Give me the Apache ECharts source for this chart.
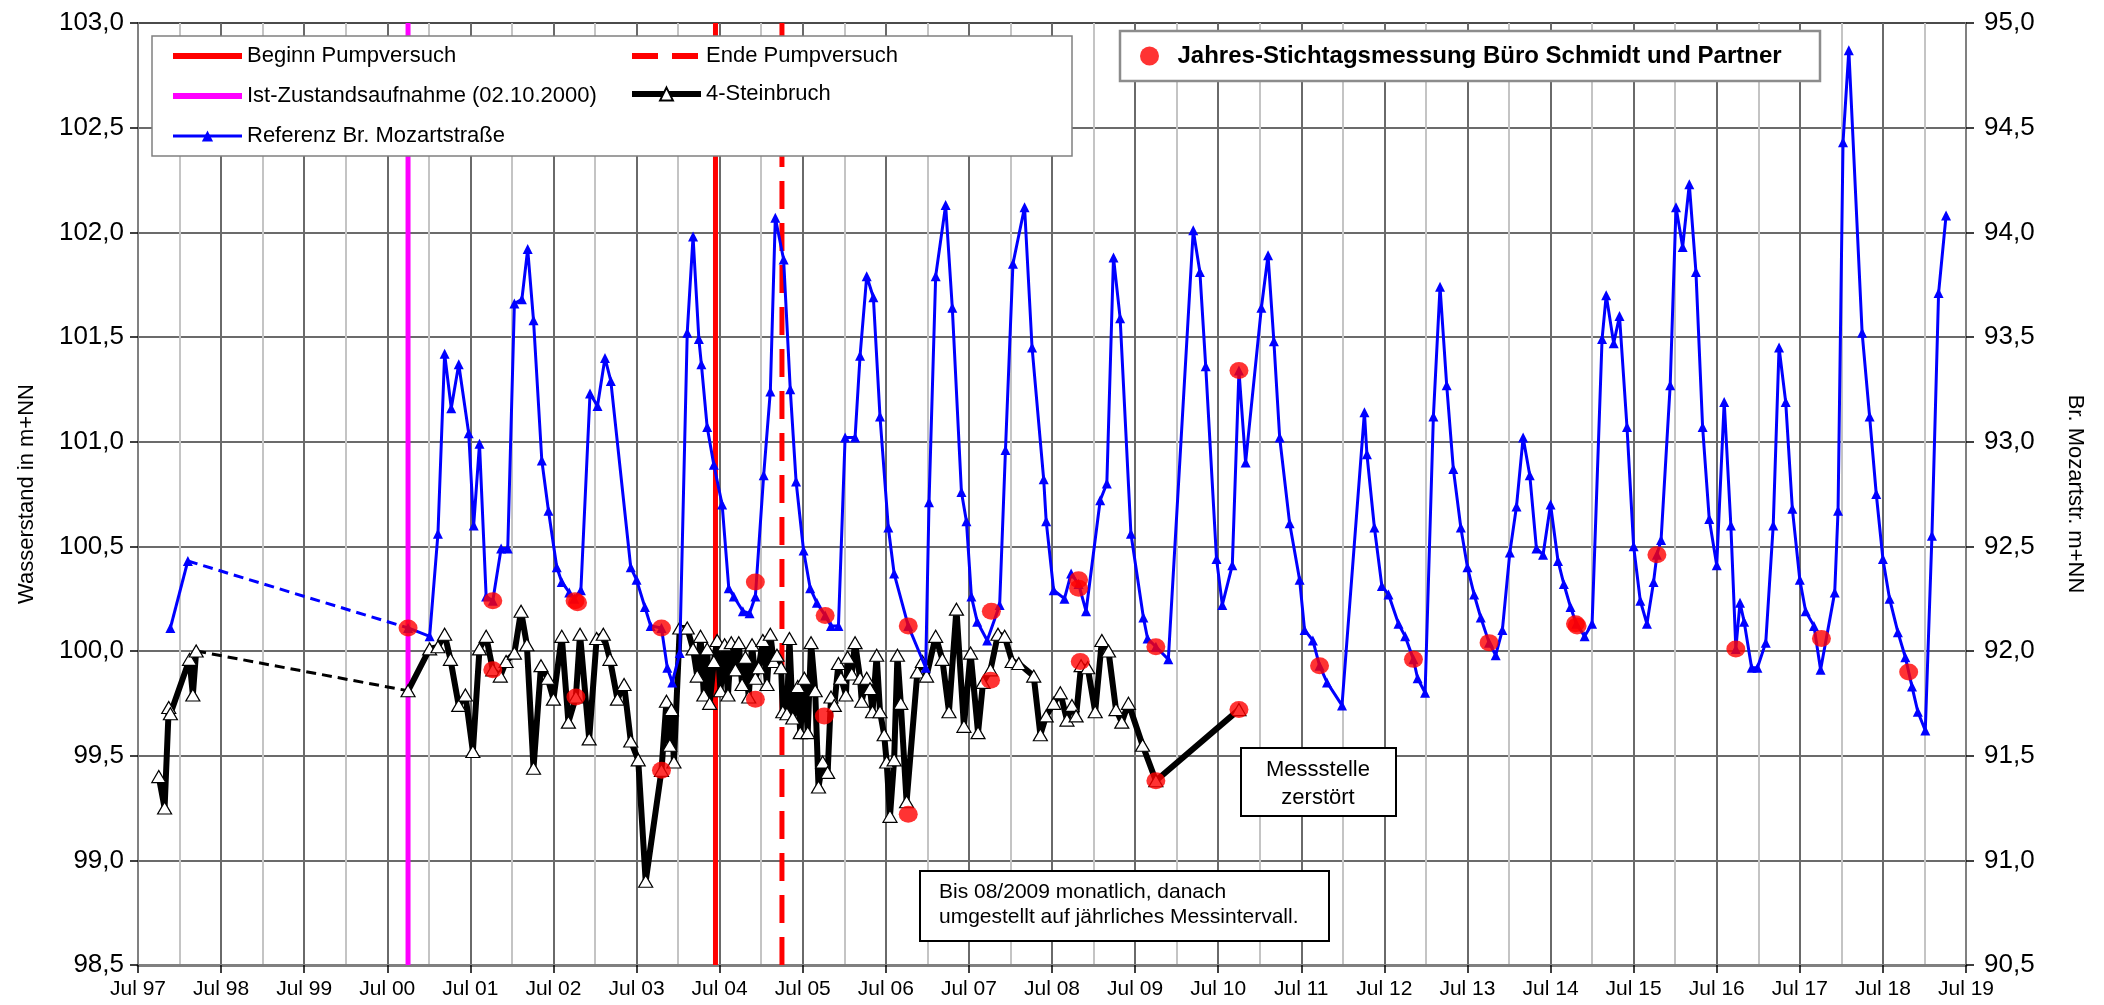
<!DOCTYPE html>
<html>
<head>
<meta charset="utf-8">
<script src="https://cdn.jsdelivr.net/npm/echarts@6/dist/echarts.min.js"></script>
<style>html,body{margin:0;padding:0;background:#fff}#chart{width:2104px;height:1005px}</style>
</head>
<body>
<div id="chart"></div>
<script>
// ---------- DATA (x = decimal year) ----------
const xTickLabels = ['Jul 97','Jul 98','Jul 99','Jul 00','Jul 01','Jul 02','Jul 03','Jul 04','Jul 05','Jul 06','Jul 07','Jul 08','Jul 09','Jul 10','Jul 11','Jul 12','Jul 13','Jul 14','Jul 15','Jul 16','Jul 17','Jul 18','Jul 19'];

// Event dates
const istDate = 2000.75;      // 02.10.2000
const beginnDate = 2004.45;
const endeDate = 2005.25;

// 4-Steinbruch (left axis, m+NN)
const steinbruchEarly = [[1997.75,99.40],[1997.82,99.25],[1997.87,99.73],[1997.89,99.70],[1998.12,99.96],[1998.16,99.79],[1998.20,100.00]];
const steinbruch = [
 [2000.75,99.81],[2001.01,100.01],[2001.11,100.02],[2001.19,100.08],[2001.26,99.96],[2001.36,99.74],[2001.44,99.79],[2001.53,99.52],[2001.61,100.01],[2001.69,100.07],[2001.77,99.91],[2001.86,99.88],[2001.93,99.95],
 [2002.03,99.99],[2002.11,100.19],[2002.18,100.03],[2002.26,99.44],[2002.35,99.93],[2002.43,99.87],[2002.50,99.77],[2002.60,100.07],[2002.68,99.66],[2002.77,99.78],[2002.82,100.08],[2002.93,99.58],
 [2003.02,100.06],[2003.10,100.08],[2003.18,99.96],[2003.27,99.77],[2003.35,99.84],[2003.43,99.57],[2003.52,99.48],[2003.61,98.90],[2003.80,99.43],[2003.86,99.76],[2003.90,99.55],[2003.92,99.72],[2003.95,99.47],
 [2004.02,100.11],[2004.11,100.11],[2004.18,100.01],[2004.23,99.88],[2004.27,100.07],[2004.31,99.79],[2004.35,100.01],[2004.38,99.75],[2004.43,99.95],[2004.47,100.05],[2004.51,99.81],[2004.56,100.03],[2004.60,99.79],[2004.64,100.04],[2004.69,99.91],[2004.73,100.04],[2004.77,99.84],[2004.81,99.97],[2004.85,99.78],[2004.89,100.03],[2004.93,99.87],[2004.97,99.92],
 [2005.02,100.05],[2005.07,99.84],[2005.11,100.08],[2005.15,99.95],[2005.19,99.98],[2005.24,99.92],[2005.26,99.71],[2005.31,99.70],[2005.34,100.06],[2005.38,99.68],[2005.44,99.83],[2005.47,99.61],[2005.52,99.87],[2005.56,99.61],[2005.60,100.04],[2005.65,99.81],[2005.69,99.35],[2005.74,99.47],[2005.80,99.42],[2005.84,99.78],[2005.88,99.74],[2005.93,99.94],[2005.96,99.87],
 [2006.02,99.79],[2006.04,99.97],[2006.09,99.89],[2006.13,100.04],[2006.19,99.87],[2006.21,99.76],[2006.27,99.87],[2006.31,99.82],[2006.34,99.71],[2006.39,99.98],[2006.43,99.71],[2006.48,99.60],[2006.51,99.47],[2006.55,99.21],[2006.60,99.48],[2006.64,99.98],[2006.68,99.75],[2006.75,99.28],[2006.88,99.90],[2006.94,99.95],[2006.99,99.88],
 [2007.10,100.07],[2007.18,99.96],[2007.26,99.71],[2007.35,100.20],[2007.44,99.64],[2007.52,99.99],[2007.61,99.61],[2007.67,99.85],[2007.76,99.91],[2007.85,100.08],[2007.93,100.07],
 [2008.02,99.95],[2008.10,99.94],[2008.28,99.88],[2008.36,99.60],[2008.43,99.69],[2008.52,99.75],[2008.60,99.80],[2008.68,99.67],[2008.74,99.74],[2008.79,99.69],[2008.85,99.93],[2008.93,99.92],
 [2009.02,99.71],[2009.10,100.05],[2009.18,100.00],[2009.27,99.72],[2009.34,99.66],[2009.42,99.75],[2009.59,99.55],[2009.75,99.38],[2010.75,99.72]
];

// Referenz Br. Mozartstraße (right axis, m+NN)
const mozartEarly = [[1997.89,92.11],[1998.10,92.43]];
const mozart = [
 [2000.75,92.11],[2001.01,92.07],[2001.11,92.56],[2001.19,93.42],[2001.27,93.16],[2001.36,93.37],[2001.48,93.04],[2001.54,92.60],[2001.61,92.99],[2001.69,92.26],[2001.77,92.24],[2001.87,92.49],[2001.95,92.49],
 [2002.03,93.66],[2002.12,93.68],[2002.19,93.92],[2002.26,93.58],[2002.36,92.91],[2002.44,92.67],[2002.54,92.40],[2002.60,92.33],[2002.69,92.28],[2002.75,92.25],[2002.83,92.29],[2002.94,93.23],
 [2003.03,93.17],[2003.12,93.40],[2003.19,93.29],[2003.43,92.40],[2003.50,92.34],[2003.60,92.21],[2003.67,92.12],[2003.80,92.11],[2003.87,91.92],[2003.93,91.85],
 [2004.02,91.99],[2004.11,93.52],[2004.18,93.98],[2004.25,93.49],[2004.28,93.37],[2004.35,93.07],[2004.43,92.89],[2004.53,92.70],[2004.61,92.30],[2004.67,92.26],[2004.78,92.19],[2004.86,92.18],[2004.93,92.26],
 [2005.03,92.84],[2005.11,93.24],[2005.17,94.07],[2005.27,93.87],[2005.35,93.25],[2005.42,92.81],[2005.51,92.48],[2005.59,92.30],[2005.67,92.23],[2005.77,92.17],[2005.84,92.12],[2005.93,92.12],
 [2006.01,93.02],[2006.13,93.02],[2006.19,93.41],[2006.27,93.79],[2006.35,93.69],[2006.43,93.12],[2006.53,92.59],[2006.60,92.37],[2006.77,92.12],[2006.98,91.92],
 [2007.02,92.71],[2007.10,93.79],[2007.22,94.13],[2007.30,93.64],[2007.41,92.76],[2007.47,92.62],[2007.53,92.26],[2007.60,92.14],[2007.72,92.05],[2007.87,92.22],[2007.94,92.96],
 [2008.03,93.85],[2008.17,94.12],[2008.26,93.45],[2008.40,92.82],[2008.43,92.62],[2008.52,92.29],[2008.65,92.25],[2008.73,92.37],[2008.82,92.32],[2008.91,92.19],
 [2009.08,92.72],[2009.16,92.80],[2009.24,93.88],[2009.32,93.59],[2009.45,92.56],[2009.60,92.16],[2009.65,92.06],[2009.75,92.02],[2009.90,91.96],
 [2010.20,94.01],[2010.28,93.81],[2010.35,93.36],[2010.48,92.44],[2010.55,92.22],[2010.67,92.41],[2010.75,93.34],[2010.83,92.90],
 [2011.02,93.64],[2011.10,93.89],[2011.17,93.48],[2011.24,93.02],[2011.36,92.61],[2011.48,92.34],[2011.54,92.10],[2011.64,92.05],[2011.72,91.93],[2011.81,91.85],[2011.99,91.74],
 [2012.26,93.14],[2012.29,92.94],[2012.38,92.59],[2012.47,92.31],[2012.55,92.27],[2012.67,92.13],[2012.75,92.07],[2012.85,91.96],[2012.90,91.87],[2012.99,91.80],
 [2013.09,93.12],[2013.17,93.74],[2013.25,93.27],[2013.33,92.87],[2013.42,92.59],[2013.50,92.40],[2013.58,92.27],[2013.66,92.16],[2013.76,92.04],[2013.84,91.98],[2013.92,92.10],
 [2014.01,92.47],[2014.09,92.69],[2014.17,93.02],[2014.25,92.84],[2014.33,92.49],[2014.41,92.46],[2014.50,92.70],[2014.59,92.43],[2014.66,92.32],[2014.74,92.21],[2014.81,92.13],[2014.91,92.07],
 [2015.00,92.13],[2015.12,93.49],[2015.17,93.70],[2015.26,93.47],[2015.33,93.60],[2015.42,93.07],[2015.50,92.50],[2015.58,92.24],[2015.66,92.13],[2015.74,92.33],[2015.78,92.46],[2015.83,92.53],[2015.94,93.27],
 [2016.01,94.12],[2016.09,93.93],[2016.17,94.23],[2016.25,93.81],[2016.33,93.07],[2016.41,92.63],[2016.50,92.41],[2016.59,93.19],[2016.67,92.60],[2016.73,92.01],[2016.78,92.23],[2016.83,92.14],[2016.92,91.92],[2016.99,91.92],
 [2017.09,92.04],[2017.18,92.60],[2017.25,93.45],[2017.33,93.19],[2017.41,92.68],[2017.50,92.34],[2017.57,92.19],[2017.67,92.12],[2017.75,91.91],[2017.92,92.28],[2017.96,92.67],
 [2018.02,94.43],[2018.09,94.87],[2018.25,93.52],[2018.34,93.12],[2018.42,92.75],[2018.50,92.44],[2018.58,92.25],[2018.68,92.09],[2018.77,91.97],[2018.85,91.83],[2018.92,91.71],
 [2019.01,91.62],[2019.09,92.55],[2019.17,93.71],[2019.26,94.08]
];

// Jahres-Stichtagsmessung (left axis values)
const stichtag = [
 [2000.75,100.11],[2001.77,100.24],[2001.77,99.91],[2002.76,100.24],[2002.79,100.23],[2002.77,99.78],
 [2003.80,100.11],[2003.80,99.43],[2004.93,100.33],[2004.93,99.77],[2005.77,100.17],[2005.76,99.69],
 [2006.77,100.12],[2006.77,99.22],[2007.77,100.19],[2007.76,99.86],[2008.82,100.34],[2008.82,100.30],[2008.84,99.95],
 [2009.75,100.02],[2009.75,99.38],[2010.75,101.34],[2010.75,99.72],[2011.72,99.93],[2012.85,99.96],[2013.76,100.04],
 [2014.80,100.13],[2014.82,100.12],[2015.78,100.46],[2016.73,100.01],[2017.76,100.06],[2018.81,99.90]
];

// ---------- CHART ----------
const FONT = '"Liberation Sans", Arial, sans-serif';
const yMin = 98.5, yMax = 103.0;
const comma = v => v.toFixed(1).replace('.', ',');
const vline = d => [[d, yMin], [d, yMax]];
const noSym = { opacity: 0 };

const chart = echarts.init(document.getElementById('chart'));
const option = {
  backgroundColor: '#fff',
  textStyle: { fontFamily: FONT },
  animation: false,
  grid: { left: 138, right: 138, top: 23, bottom: 40, show: true, borderColor: '#808080', borderWidth: 2, containLabel: false },
  xAxis: [
    { type: 'value', min: 1997.5, max: 2019.5, interval: 0.5,
      axisLine: { show: true, lineStyle: { color: '#808080', width: 3 } },
      axisTick: { show: false }, axisLabel: { show: false },
      splitLine: { show: true, lineStyle: { color: ['#6a6a6a', '#c4c4c4'], width: 2 } } },
    { type: 'value', min: 0, max: 22, interval: 1, position: 'bottom',
      axisLine: { show: false },
      axisTick: { show: true, length: 8, lineStyle: { color: '#000', width: 1.5 } },
      axisLabel: { show: true, fontSize: 21, color: '#000', margin: 14, fontFamily: FONT,
        formatter: v => xTickLabels[Math.round(v)] || '' },
      splitLine: { show: false } }
  ],
  yAxis: [
    { type: 'value', min: yMin, max: yMax, interval: 0.5, position: 'left',
      name: 'Wasserstand in m+NN', nameLocation: 'middle', nameGap: 100, nameRotate: 90,
      nameTextStyle: { fontSize: 22, color: '#000', fontFamily: FONT },
      axisLine: { show: true, lineStyle: { color: '#808080', width: 2 } },
      axisTick: { show: true, length: 8, lineStyle: { color: '#000', width: 1.5 } },
      axisLabel: { fontSize: 26, color: '#000', margin: 14, formatter: comma, fontFamily: FONT },
      splitLine: { show: true, lineStyle: { color: '#3a3a3a', width: 1.5 } } },
    { type: 'value', min: 90.5, max: 95.0, interval: 0.5, position: 'right',
      name: 'Br. Mozartstr. m+NN', nameLocation: 'middle', nameGap: 98, nameRotate: -90,
      nameTextStyle: { fontSize: 22, color: '#000', fontFamily: FONT },
      axisLine: { show: true, lineStyle: { color: '#808080', width: 2 } },
      axisTick: { show: true, length: 8, lineStyle: { color: '#000', width: 1.5 } },
      axisLabel: { fontSize: 26, color: '#000', margin: 18, formatter: comma, fontFamily: FONT },
      splitLine: { show: false } }
  ],
  legend: [
    { data: [
        { name: 'Beginn Pumpversuch', itemStyle: noSym, lineStyle: { width: 6 } },
        { name: 'Ist-Zustandsaufnahme (02.10.2000)', itemStyle: noSym, lineStyle: { width: 6 } },
        { name: 'Referenz Br. Mozartstraße', lineStyle: { width: 3 } } ],
      orient: 'vertical', left: 170, top: 43, itemWidth: 69, itemHeight: 14, itemGap: 14, padding: 0, z: 20,
      textStyle: { fontSize: 22, color: '#000', fontFamily: FONT, lineHeight: 26 } },
    { data: [
        { name: 'Ende Pumpversuch', itemStyle: noSym, lineStyle: { width: 6, type: [26, 14] } },
        { name: '4-Steinbruch', lineStyle: { width: 6 } } ],
      orient: 'vertical', left: 629, top: 43, itemWidth: 69, itemHeight: 16, itemGap: 12, padding: 0, z: 20,
      textStyle: { fontSize: 22, color: '#000', fontFamily: FONT, lineHeight: 26 } },
    { data: ['Jahres-Stichtagsmessung Büro Schmidt und Partner'],
      orient: 'horizontal', left: 1140, top: 42, itemWidth: 46, itemHeight: 19, padding: 0, z: 20,
      textStyle: { fontSize: 24, color: '#000', fontWeight: 'bold', fontFamily: FONT, lineHeight: 28 } }
  ],
  graphic: [
    { type: 'rect', z: 10, shape: { x: 152, y: 36, width: 920, height: 120 },
      style: { fill: '#fff', stroke: '#808080', lineWidth: 1.5 } },
    { type: 'rect', z: 10, shape: { x: 1120, y: 31, width: 700, height: 50 },
      style: { fill: '#fff', stroke: '#8c8c8c', lineWidth: 2.5 } },
    { type: 'rect', z: 10, shape: { x: 1241, y: 748, width: 155, height: 68 },
      style: { fill: '#fff', stroke: '#000', lineWidth: 2 } },
    { type: 'text', z: 11, x: 1318, y: 756,
      style: { text: 'Messstelle\nzerstört', align: 'center', textAlign: 'center', fill: '#000', font: '22px ' + FONT, lineHeight: 28 } },
    { type: 'rect', z: 10, shape: { x: 920, y: 871, width: 409, height: 70 },
      style: { fill: '#fff', stroke: '#000', lineWidth: 2 } },
    { type: 'text', z: 11, x: 939, y: 880,
      style: { text: 'Bis 08/2009 monatlich, danach\numgestellt auf jährliches Messintervall.', fill: '#000', font: '21px ' + FONT, lineHeight: 25 } }
  ],
  series: [
    { name: 'Ist-Zustandsaufnahme (02.10.2000)', type: 'line', data: vline(istDate), symbol: 'none', z: 1,
      lineStyle: { color: '#ff00ff', width: 5 }, itemStyle: { color: '#ff00ff' } },
    { name: 'Beginn Pumpversuch', type: 'line', data: vline(beginnDate), symbol: 'none', z: 1,
      lineStyle: { color: '#ff0000', width: 5 }, itemStyle: { color: '#ff0000' } },
    { name: 'Ende Pumpversuch', type: 'line', data: vline(endeDate), symbol: 'none', z: 1,
      lineStyle: { color: '#ff0000', width: 5, type: [28, 14] }, itemStyle: { color: '#ff0000' } },
    { name: '4-Steinbruch', type: 'line', data: steinbruch, z: 3,
      symbol: 'triangle', symbolSize: [14, 12],
      lineStyle: { color: '#000', width: 6 },
      itemStyle: { color: '#fff', borderColor: '#000', borderWidth: 1.2 } },
    { name: '4-Steinbruch', type: 'line', data: steinbruchEarly, z: 3,
      symbol: 'triangle', symbolSize: [14, 12],
      lineStyle: { color: '#000', width: 6 },
      itemStyle: { color: '#fff', borderColor: '#000', borderWidth: 1.2 } },
    { name: 'Steinbruch-Lücke', type: 'line', z: 2, symbol: 'none',
      data: [steinbruchEarly[steinbruchEarly.length - 1], steinbruch[0]],
      lineStyle: { color: '#000', width: 3, type: [10, 6] } },
    { name: 'Referenz Br. Mozartstraße', type: 'line', yAxisIndex: 1, data: mozart, z: 4,
      symbol: 'triangle', symbolSize: [10, 10],
      lineStyle: { color: '#0000ff', width: 3 },
      itemStyle: { color: '#0000ff' } },
    { name: 'Referenz Br. Mozartstraße', type: 'line', yAxisIndex: 1, data: mozartEarly, z: 4,
      symbol: 'triangle', symbolSize: [10, 10],
      lineStyle: { color: '#0000ff', width: 3 },
      itemStyle: { color: '#0000ff' } },
    { name: 'Mozart-Lücke', type: 'line', yAxisIndex: 1, z: 2, symbol: 'none',
      data: [mozartEarly[mozartEarly.length - 1], mozart[0]],
      lineStyle: { color: '#0000ff', width: 3, type: [10, 6] } },
    { name: 'Jahres-Stichtagsmessung Büro Schmidt und Partner', type: 'scatter', data: stichtag, z: 6,
      symbol: 'circle', symbolSize: [19, 17], itemStyle: { color: '#ff0000' } }
  ]
};
chart.setOption(option);
</script>
</body>
</html>
